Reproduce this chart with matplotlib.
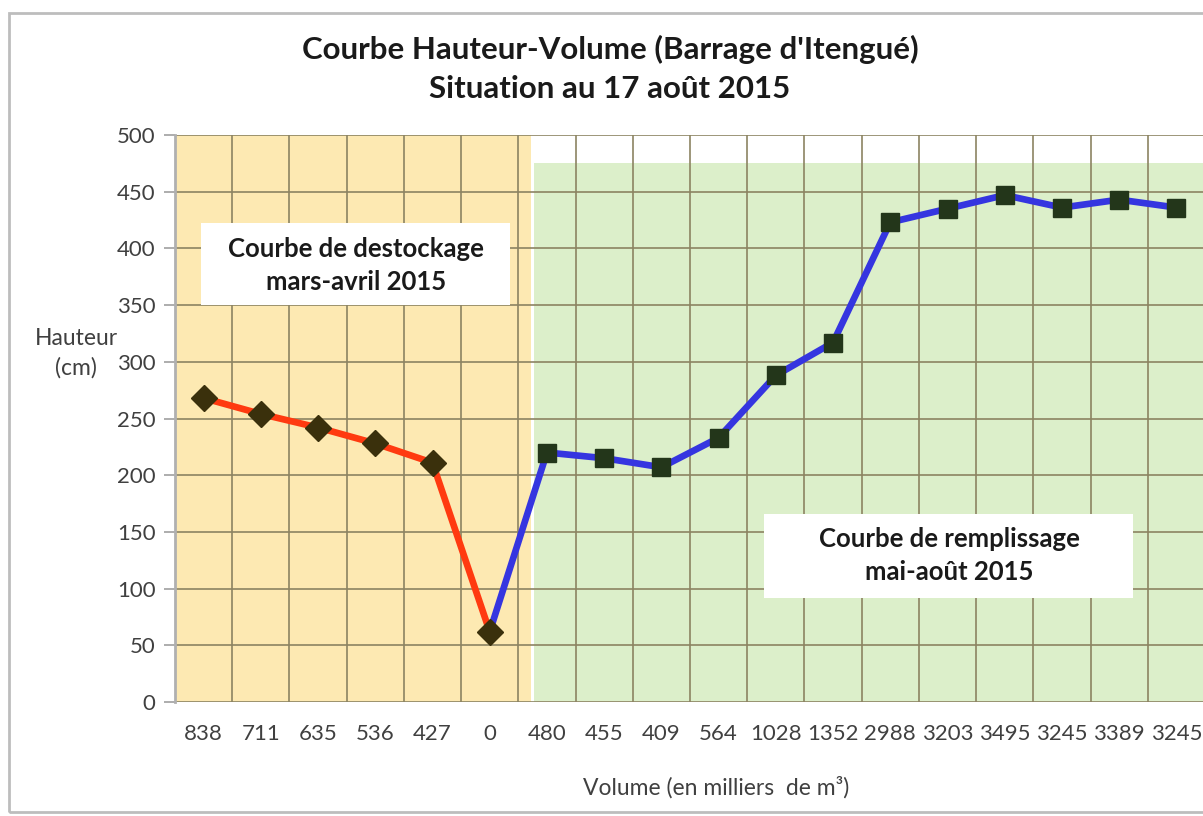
#!/usr/bin/env python3
"""
Courbe Hauteur-Volume du barrage d'Itengue (situation au 17 aout 2015)
"""
import matplotlib
matplotlib.use('Agg')
import matplotlib.pyplot as plt
from matplotlib.patches import Rectangle
import numpy as np

plt.rcParams['font.family'] = ['Lato', 'DejaVu Sans']

# volumes (milliers de m3) used as category labels
volumes = ['838', '711', '635', '536', '427', '0', '480', '455', '409', '564',
           '1028', '1352', '2988', '3203', '3495', '3245', '3389', '3245']
# hauteur (cm)
hauteur = [268, 254, 242, 228, 211, 62, 220, 215, 207, 233,
           288, 317, 423, 435, 447, 436, 443, 436]
n_destock = 6   # first 6 points = destockage (mars-avril)

GRID = '#8c8462'
TXT = '#404040'

fig = plt.figure(figsize=(12.03, 8.16), dpi=100)
ax = fig.add_axes([175 / 1203, 1 - 702 / 816, 1030 / 1203, 567 / 816])

x = np.arange(len(volumes))

# background zones
ax.axvspan(-0.5, 5.73, ymin=0, ymax=1.0, color='#fde9b2', zorder=0, lw=0)
ax.axvspan(5.77, len(volumes) - 0.5, ymin=0, ymax=475 / 500, color='#dcefca', zorder=0, lw=0)

# curves
ax.plot(x[:n_destock], hauteur[:n_destock], color='#ff3a10', lw=4.8, zorder=3,
        solid_capstyle='round')
ax.plot(x[n_destock - 1:], hauteur[n_destock - 1:], color='#3535e0', lw=4.8, zorder=3,
        solid_capstyle='round')
ax.plot(x[:n_destock], hauteur[:n_destock], ls='none', marker='D', ms=13,
        color='#3a300c', zorder=4)
ax.plot(x[n_destock:], hauteur[n_destock:], ls='none', marker='s', ms=13,
        color='#23361a', zorder=4)

ax.set_xlim(-0.5, len(volumes) - 0.5)
ax.set_ylim(0, 500)
ax.set_yticks(np.arange(0, 501, 50))
ax.set_xticks(x)
ax.set_xticklabels(volumes)
ax.set_xticks(np.arange(-0.5, len(volumes), 1), minor=True)

ax.grid(True, which='minor', axis='x', color=GRID, lw=1.2, zorder=1)
ax.grid(True, which='major', axis='y', color=GRID, lw=1.2, zorder=1)
ax.set_axisbelow(True)

for s in ['top', 'right', 'bottom']:
    ax.spines[s].set_visible(False)
ax.spines['left'].set_color('#b0b0b0')
ax.spines['left'].set_linewidth(2)

ax.tick_params(axis='x', which='both', length=0, pad=16, labelsize=16, labelcolor=TXT)
ax.tick_params(axis='y', length=8, width=1.2, color='#a0a0a0', pad=6,
               labelsize=16, labelcolor=TXT)

# titles and labels
fig.text(610 / 1203, 1 - 49 / 816, "Courbe Hauteur-Volume (Barrage d'Itengué)",
         ha='center', va='center', fontsize=22.5, fontweight='bold', color='#1a1a1a')
fig.text(610 / 1203, 1 - 89 / 816, "Situation au 17 août 2015",
         ha='center', va='center', fontsize=22.5, fontweight='bold', color='#1a1a1a')
fig.text(76 / 1203, 1 - 353 / 816, "Hauteur\n(cm)", ha='center', va='center',
         fontsize=16.5, color=TXT, linespacing=1.45)
fig.text(716 / 1203, 1 - 787 / 816, "Volume (en milliers  de m³)", ha='center', va='center',
         fontsize=16.5, color=TXT)

# annotation boxes
ax.add_patch(Rectangle((-0.04, 350), 5.4, 72, facecolor='white', edgecolor='none', zorder=2))
ax.text(2.66, 385, "Courbe de destockage\nmars-avril 2015", ha='center', va='center',
        fontsize=18.5, fontweight='bold', color='#1a1a1a', linespacing=1.45, zorder=5)
ax.add_patch(Rectangle((9.8, 92), 6.45, 74, facecolor='white', edgecolor='none', zorder=2))
ax.text(13.03, 129, "Courbe de remplissage\nmai-août 2015", ha='center', va='center',
        fontsize=18.5, fontweight='bold', color='#1a1a1a', linespacing=1.45, zorder=5)

# outer chart border
fig.patches.append(Rectangle((9 / 1203, 4 / 816), 1.0, 1 - 17 / 816, transform=fig.transFigure,
                             fill=False, edgecolor='#bdbdbd', lw=2, figure=fig))

fig.savefig('out.png', dpi=100)
